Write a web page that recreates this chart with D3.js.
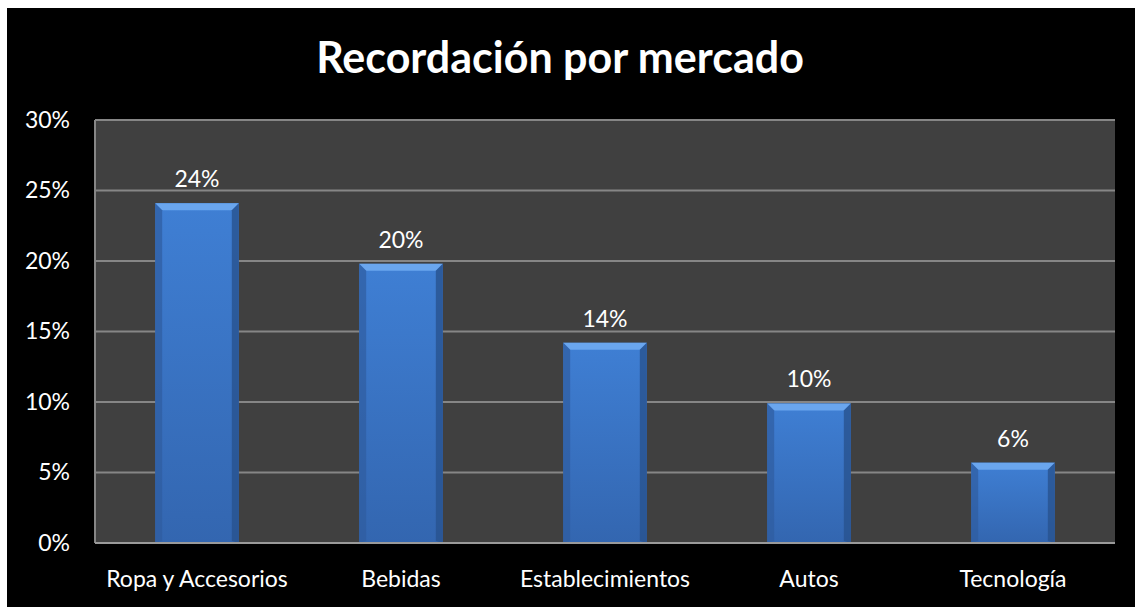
<!DOCTYPE html>
<html>
<head>
<meta charset="utf-8">
<script src="https://cdn.jsdelivr.net/npm/d3@7"></script>
<style>
  body { margin: 0; background: #ffffff; }
  svg { display: block; }
</style>
</head>
<body>
<svg id="chart" width="1135" height="607"></svg>
<script>
// chart data
const categories = ["Ropa y Accesorios", "Bebidas", "Establecimientos", "Autos", "Tecnología"];
const values = [24.1, 19.8, 14.2, 9.9, 5.7];
const valueLabels = ["24%", "20%", "14%", "10%", "6%"];
const yTicks = [0, 5, 10, 15, 20, 25, 30];
const title = "Recordación por mercado";

const fontFamily = "Lato, 'Open Sans', sans-serif";

const svg = d3.select("svg#chart");

let margin = { top: 120, right: 20, bottom: 64, left: 95 };
let width = 1135, height = 607;
let plotWidth = width - margin.left - margin.right;
let plotHeight = height - margin.top - margin.bottom;

// black chart background, white strip on top/left like the original
svg.append("rect")
    .attr("x", 7).attr("y", 8)
    .attr("width", width - 7).attr("height", height - 8)
    .attr("fill", "#000000");

svg.append("text")
    .attr("x", 560).attr("y", 73)
    .attr("text-anchor", "middle")
    .attr("fill", "#ffffff")
    .style("font-family", fontFamily)
    .style("font-weight", "bold")
    .style("font-size", "43px")
    .text(title);

let x = d3.scaleBand()
    .domain(categories)
    .range([0, plotWidth])
    .paddingInner(0.59)
    .paddingOuter(0.295);

let y = d3.scaleLinear()
    .domain([0, 30])
    .range([plotHeight, 0]);

let plot = svg.append("g")
    .attr("transform", "translate(" + margin.left + "," + margin.top + ")");

plot.append("rect")
    .attr("width", plotWidth).attr("height", plotHeight)
    .attr("fill", "#404040");

// gridlines
plot.append("g")
    .selectAll("line")
    .data(yTicks.slice(1))
    .enter()
    .append("line")
    .attr("x1", 0).attr("x2", plotWidth)
    .attr("y1", d => y(d)).attr("y2", d => y(d))
    .attr("stroke", "#868686")
    .attr("stroke-width", 2);

// left axis line
plot.append("line")
    .attr("x1", 0).attr("x2", 0)
    .attr("y1", 0).attr("y2", plotHeight)
    .attr("stroke", "#868686").attr("stroke-width", 2);

// y axis labels
let yAxis = d3.axisLeft(y)
    .tickValues(yTicks)
    .tickSize(0)
    .tickPadding(25)
    .tickFormat(d => d + "%");

let yg = plot.append("g").call(yAxis);
yg.select(".domain").remove();
yg.selectAll("text")
    .attr("fill", "#ffffff")
    .style("font-family", fontFamily)
    .style("font-size", "23px");

// x axis labels
let xAxis = d3.axisBottom(x).tickSize(0).tickPadding(28);
let xg = plot.append("g")
    .attr("transform", "translate(0," + plotHeight + ")")
    .call(xAxis);
xg.select(".domain").remove();
xg.selectAll("text")
    .attr("fill", "#ffffff")
    .style("font-family", fontFamily)
    .style("font-size", "23px");

// bar gradient
let defs = svg.append("defs");
let grad = defs.append("linearGradient")
    .attr("id", "barGrad")
    .attr("x1", "0").attr("x2", "0").attr("y1", "0").attr("y2", "1");
grad.append("stop").attr("offset", "0%").attr("stop-color", "#3f7fd4");
grad.append("stop").attr("offset", "100%").attr("stop-color", "#3366b0");

let bev = 7;
let bars = plot.selectAll("g.bar")
    .data(categories.map((c, i) => ({ c: c, v: values[i], label: valueLabels[i] })))
    .enter()
    .append("g")
    .attr("class", "bar");

bars.append("rect")
    .attr("x", d => x(d.c))
    .attr("y", d => y(d.v))
    .attr("width", x.bandwidth())
    .attr("height", d => plotHeight - y(d.v))
    .attr("fill", "url(#barGrad)");

// top bevel
bars.append("polygon")
    .attr("points", d => {
        let x0 = x(d.c), x1 = x(d.c) + x.bandwidth(), t = y(d.v);
        return [[x0, t], [x1, t], [x1 - bev, t + bev], [x0 + bev, t + bev]].join(" ");
    })
    .attr("fill", "#6aa6ee");

// left bevel
bars.append("polygon")
    .attr("points", d => {
        let x0 = x(d.c), t = y(d.v);
        return [[x0, t], [x0 + bev, t + bev], [x0 + bev, plotHeight - 2], [x0, plotHeight]].join(" ");
    })
    .attr("fill", "#2f5d9f")
    .attr("opacity", 0.7);

// right bevel
bars.append("polygon")
    .attr("points", d => {
        let x1 = x(d.c) + x.bandwidth(), t = y(d.v);
        return [[x1, t], [x1 - bev, t + bev], [x1 - bev, plotHeight - 2], [x1, plotHeight]].join(" ");
    })
    .attr("fill", "#28528f")
    .attr("opacity", 0.8);

bars.append("text")
    .attr("x", d => x(d.c) + x.bandwidth() / 2)
    .attr("y", d => y(d.v) - 16)
    .attr("text-anchor", "middle")
    .attr("fill", "#ffffff")
    .style("font-family", fontFamily)
    .style("font-size", "23px")
    .text(d => d.label);

// bottom axis line
plot.append("line")
    .attr("x1", 0).attr("x2", plotWidth)
    .attr("y1", plotHeight).attr("y2", plotHeight)
    .attr("stroke", "#9a9a9a").attr("stroke-width", 2);
</script>
</body>
</html>
